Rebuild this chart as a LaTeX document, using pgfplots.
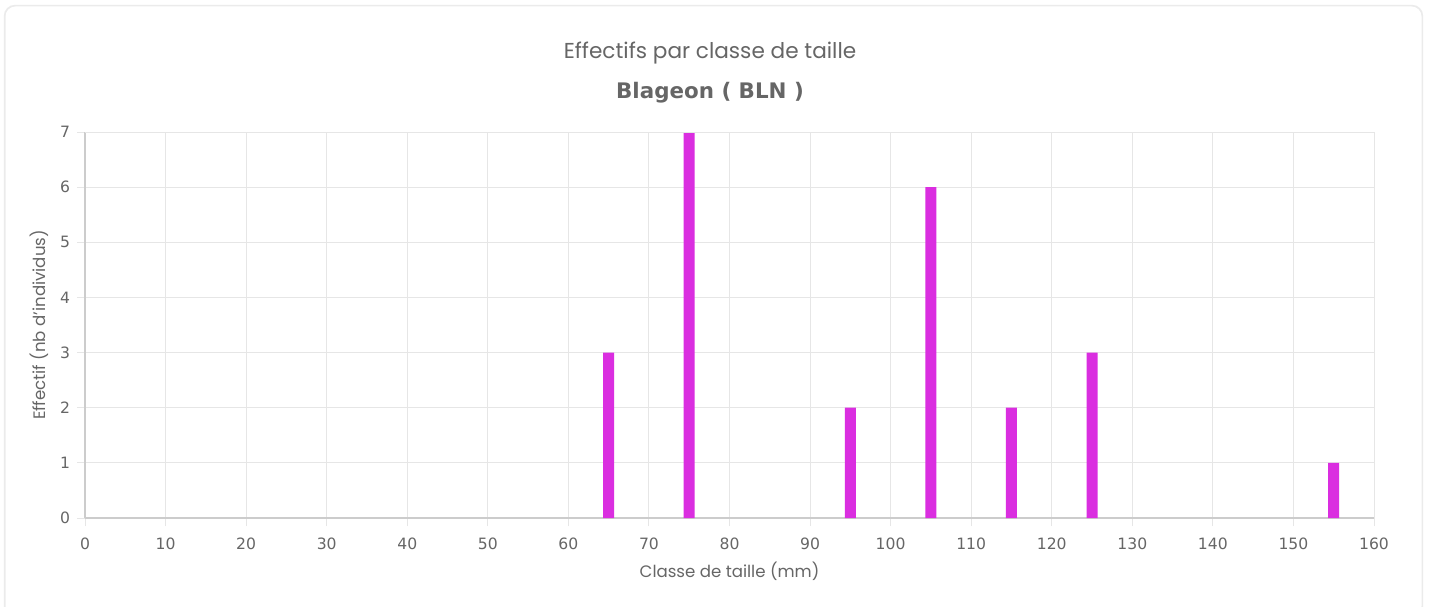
\documentclass[border=0pt]{standalone}
\usepackage{pgfplots}
\pgfplotsset{compat=1.18}
\usepackage{fontspec}
\setmainfont{Poppins}
\newfontfamily\dejavu{DejaVu Sans}
\definecolor{txt}{HTML}{666666}
\definecolor{bar}{HTML}{DA2EE0}
\definecolor{gridc}{HTML}{E6E6E6}
\definecolor{axc}{HTML}{CCCCCC}
\begin{document}
\begin{tikzpicture}[x=0.5pt,y=0.5pt]
\path[use as bounding box] (0,0) rectangle (1431,606);
\draw[black!8,line width=1.2pt,rounded corners=5pt] (5,-10) rectangle (1422,600);
\fill[white,rounded corners=5pt] (5.5,-10) rectangle (1421.5,599.5);
\node[font=\fontsize{10.8}{12}\selectfont,text=txt] at (710,553) {Effectifs par classe de taille};
\node[font=\dejavu\bfseries\fontsize{10.7}{12}\selectfont,text=txt] at (710,513) {Blageon ( BLN )};
\begin{axis}[
  at={(42.5pt,44pt)}, anchor=south west,
  scale only axis, width=644.5pt, height=193pt,
  xmin=0, xmax=160, ymin=0, ymax=7,
  xtick={0,10,...,160}, ytick={0,1,...,7},
  grid=major, grid style={gridc,line width=0.5pt},
  axis line style={axc,line width=0.6pt},
  axis x line*=bottom, axis y line*=left,
  tick style={gridc,line width=0.5pt},
  major tick length=4pt,
  tick align=outside,
  ticklabel style={font=\dejavu\fontsize{7.8}{9}\selectfont,text=txt},
  /pgf/number format/assume math mode=true,
  xticklabel style={yshift=-2.5pt},
  xlabel={Classe de taille (mm)}, ylabel={Effectif (nb d'individus)},
  label style={font=\fontsize{8.3}{9}\selectfont,text=txt},
  xlabel style={yshift=1pt},
  ylabel style={yshift=-1pt},
  clip=false,
]
\addplot[ybar, bar width=5.5pt, bar shift=0pt, fill=bar, draw=none] coordinates {
(65,3) (75,7) (95,2) (105,6) (115,2) (125,3) (155,1)
};
\draw[gridc,line width=0.5pt] (axis cs:160,0) -- (axis cs:160,7);
\draw[gridc,line width=0.5pt] (axis cs:0,7) -- (axis cs:160,7);
\end{axis}
\end{tikzpicture}
\end{document}
